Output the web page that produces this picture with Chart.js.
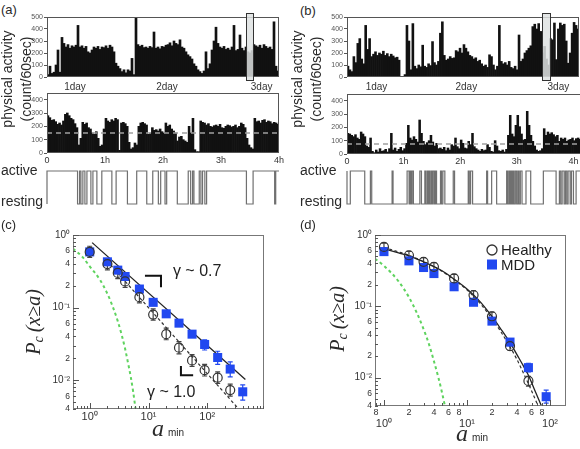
<!DOCTYPE html>
<html><head><meta charset="utf-8">
<script src="https://cdn.jsdelivr.net/npm/chart.js@4.4.1/dist/chart.umd.min.js"></script>
<style>
html,body{margin:0;padding:0;background:#fff;}
body{width:580px;height:449px;overflow:hidden;position:relative;font-family:"Liberation Sans",Arial,sans-serif;color:#2a2a2a}
canvas{position:absolute;display:block}
.t{position:absolute;white-space:nowrap;line-height:1}
.rot{position:absolute;text-align:center;transform:rotate(-90deg);white-space:nowrap}
</style></head><body>
<canvas id="topA" width="268" height="82" style="left:17px;top:11px"></canvas>
<canvas id="midA" width="270" height="80" style="left:17px;top:87px"></canvas>
<canvas id="stA" width="242" height="43" style="left:42px;top:166px"></canvas>
<canvas id="topB" width="268" height="82" style="left:317px;top:11px"></canvas>
<canvas id="midB" width="272" height="80" style="left:317px;top:88px"></canvas>
<canvas id="stB" width="244" height="43" style="left:342px;top:166px"></canvas>
<canvas id="logC" width="241" height="199" style="left:31px;top:226px"></canvas>
<canvas id="logD" width="241" height="210" style="left:333px;top:226px"></canvas>

<div class="t" style="left:1px;top:3px;font-size:13px">(a)</div>
<div class="t" style="left:300px;top:4px;font-size:13px">(b)</div>
<div class="t" style="left:1px;top:218px;font-size:13px">(c)</div>
<div class="t" style="left:300px;top:218px;font-size:13px">(d)</div>
<div class="rot" style="left:-53px;top:60px;width:140px;height:38px;font-size:14px;line-height:19px">physical activity<br>(count/60sec)</div>
<div class="rot" style="left:237px;top:60px;width:140px;height:38px;font-size:14px;line-height:19px">physical activity<br>(count/60sec)</div>
<div class="t" style="left:1px;top:163px;font-size:14px">active</div>
<div class="t" style="left:1px;top:194px;font-size:14px">resting</div>
<div class="t" style="left:300px;top:163px;font-size:14px">active</div>
<div class="t" style="left:300px;top:194px;font-size:14px">resting</div>
<div class="rot" style="left:-17px;top:307px;width:100px;height:30px;font:italic 20px/30px 'Liberation Serif',serif">P<span style="font-size:14px;vertical-align:-3px">c</span>&#8201;(x≥a)</div>
<div class="rot" style="left:287px;top:304px;width:100px;height:30px;font:italic 20px/30px 'Liberation Serif',serif">P<span style="font-size:14px;vertical-align:-3px">c</span>&#8201;(x≥a)</div>
<div class="t" style="left:152px;top:416px"><span style="font:italic 24px/24px 'Liberation Serif',serif">a</span><span style="font-size:10px;margin-left:4px">min</span></div>
<div class="t" style="left:456px;top:421px"><span style="font:italic 24px/24px 'Liberation Serif',serif">a</span><span style="font-size:10px;margin-left:4px">min</span></div>

<script>
// ---------------- DATA ----------------
// (a)/(b) top: 3-day activity record (count/60sec), coarse bins
const topBinsA = [20,90,30,40,100,225,40,330,280,250, 270,240,260,250,265,430,250,260,240,255,
  210,200,225,250,240,255,230,250,245,260, 240,265,250,210,115,90,70,45,60,35,
  60,50,155,20,500,270,255,265,245,250, 240,255,245,375,240,250,235,255,250,265,
  270,285,260,300,280,270,310,250,240,210, 185,170,150,110,90,60,45,30,50,210,
  70,110,225,300,415,280,250,240,255,230, 240,225,250,430,220,230,350,240,220,250,
  210,200,220,270,260,250,265,240,270,255, 240,250,230,460,90,50];
const topBinsB = [90,60,45,170,120,280,320,150,110,430, 230,320,170,190,210,180,200,190,215,180,
  195,170,190,175,160,165,140,0,0,20, 430,300,60,445,90,70,100,85,265,90,
  80,110,95,295,120,100,130,365,460,180, 140,150,170,155,160,220,210,240,200,270,
  240,210,180,170,150,160,130,140,110,90, 100,80,185,170,100,60,90,430,130,110,
  120,100,130,80,70,90,60,350,130,150, 200,220,240,260,420,440,400,445,380,200,
  255,150,100,320,310,450,145,400,450,430, 440,300,115,200,365,455,430,400];
const dayTickA = [14, 60, 107.3];
const dayTickB = [15, 60.7, 107.5];
const dayLabels = ['1day', '2day', '3day'];
const highlightA = [99.3, 103.2];
const highlightB = [99.2, 103.3];
const topYTicks = [0, 100, 200, 300, 400, 500];

// (a)/(b) middle: 4-hour close-up, 2-min bins (count/60sec)
const midA = [280,265,245,250,235,215,225,210,240,290, 300,280,260,250,220,190,60,110,230,215,
  225,190,180,150,140,160,110,50,60,180, 260,240,230,250,240,260,250,20,225,230,
  220,200,80,30,40,75,60,200,225,230, 220,210,140,150,190,170,175,165,180,160,
  150,225,200,210,180,165,150,90,120,125, 100,90,80,200,150,260,25,10,10,240,
  230,225,210,220,200,195,205,210,200,215, 190,185,200,210,205,195,200,210,190,200,
  225,215,190,110,60,40,30,260,235,240, 225,245,250,230,240,235,220,230,225,215];
const midB = [155,150,140,130,145,120,110,165,150,130, 60,50,120,20,10,30,15,40,20,25,
  35,15,40,155,30,45,20,35,50,25, 40,80,215,120,105,130,110,90,255,155,
  95,70,85,100,140,90,60,80,40,45, 35,50,25,45,30,70,60,120,55,40,
  105,80,45,40,95,70,155,55,40,30, 20,35,25,30,70,50,20,15,100,60,
  25,20,30,15,35,140,290,150,130,215, 290,205,150,105,110,320,215,140,95,60,
  30,20,25,40,190,140,165,150,160,145, 130,140,95,120,110,120,95,105,110,120,
  100,115,120,110];
const thresholdA = 150, thresholdB = 75;
const midYTicks = [0, 100, 200, 300, 400];
const hourTicks = [0, 60, 120, 180, 240];
const hourLabels = ['0', '1h', '2h', '3h', '4h'];

// active/resting state: state before t=0, then toggle times (min)
const stateStartA = 0;
const togglesA = [0,31.6,33.7,35.1,37.1,39.2,41.3,45.4,47.5,51.6,56.7,67.1,71.5,83.2,92.8,103.2,109.4,
  115.2,117.6,122.1,123.8,134.8,146.1,148.6,150.6,152,157.5,159.2,160.9,163.3,165.1,206.3,213.2,235.5,236.6];
const stateStartB = 1;
const togglesB = [0,3.5,18.8,24.8,26.2,47.8,48.8,63.7,65.8,66.9,68,69,70.4,77.2,78.9,82.5,83.5,85,86,87.1,
  87.8,89.2,90.3,91.3,92.7,93.8,94.9,99.1,100.2,101.6,103.7,112.6,114,128.5,129.6,131,133.1,148,149,153.3,
  158.6,169.2,170.3,171.7,172.7,173.8,174.9,175.9,177,178.4,179.8,181.2,182.3,183.7,185.5,189.7,194.7,208.1,
  221.6,225.1,226.5,228,230.1,231.5,232.9,234.3,236.5,237.9,240,242.8];

// (c) cumulative distribution of active period
const aMinC = [1,2,3,4,7,12,20,33,55,90,150,245,400];
const mddC = [0.585,0.427,0.328,0.268,0.18,0.118,0.082,0.061,0.043,0.031,0.0205,0.0142,0.0069];
const mddLoC = [null,null,null,null,null,null,null,null,null,0.026,0.0165,0.0111,0.0053];
const mddHiC = [null,null,null,null,null,null,null,null,null,0.036,0.025,0.0178,0.0086];
const healthyC = [0.585,0.397,0.30,0.229,0.139,0.080,0.043,0.028,0.0187,0.0137,0.0108,0.0073];
const healthyLoC = [0.49,0.33,0.25,0.19,0.116,0.067,0.036,0.023,0.0155,0.0114,0.009,0.006];
const healthyHiC = [0.70,0.47,0.36,0.27,0.167,0.096,0.052,0.034,0.0225,0.0165,0.013,0.0088];
const fit07X = [1.1, 444], fit07Y = [0.785, 0.0102];
const fit10X = [1.96, 333], fit10Y = [0.44, 0.0041];
const expCX = [0.52,0.75,1,1.5,2,2.5,3,3.5,4,4.5,5,5.5,6];
const expCY = [0.65,0.5,0.37,0.24,0.155,0.1,0.065,0.042,0.027,0.017,0.011,0.0068,0.0041];

// (d) cumulative distribution of resting period
const aMinD = [1,2,3,4,7,12,20,33,55,90];
const mddD = [0.585,0.434,0.35,0.288,0.188,0.114,0.062,0.0315,0.0138,0.0054];
const mddLoD = [null,null,null,null,null,null,null,0.028,0.012,0.0044];
const mddHiD = [null,null,null,null,null,null,null,0.035,0.0159,0.0067];
const healthyD = [0.68,0.52,0.42,0.358,0.246,0.144,0.0725,0.0277,0.009];
const healthyLoD = [0.6,0.46,0.37,0.315,0.215,0.126,0.063,0.024,0.0076];
const healthyHiD = [0.77,0.59,0.48,0.41,0.28,0.165,0.083,0.032,0.0104];
const fitHX = [1,1.5,2,3,4,5,7,10,12,15,20,25,33,40,48,55,65,79];
const fitHY = [0.64,0.56,0.51,0.42,0.36,0.315,0.24,0.175,0.144,0.11,0.072,0.05,0.031,0.021,0.0145,0.0108,0.0068,0.004];
const fitMX = [1,1.5,2,3,4,5,7,10,12,15,20,25,33,40,48,55,64,72];
const fitMY = [0.67,0.58,0.52,0.425,0.36,0.31,0.235,0.17,0.138,0.104,0.067,0.046,0.027,0.018,0.0115,0.0082,0.0055,0.004];
const expDX = [0.78,1,1.5,2,2.5,3,3.5,4,4.5,5,5.5];
const expDY = [0.465,0.37,0.224,0.134,0.08,0.048,0.029,0.017,0.0103,0.0062,0.0037];

// log axis labels
const logYLabelVals = [1,0.6,0.4,0.2,0.1,0.06,0.04,0.02,0.01,0.006,0.004];
const logYLabelText = ['10⁰','6','4','2','10⁻¹','6','4','2','10⁻²','6','4'];
const logXMajorVals = [1,10,100];
const logXMajorText = ['10⁰','10¹','10²'];
const logXMinorValsD = [0.8,2,4,6,8,20,40,60,80];
const logXMinorTextD = ['8','2','4','6','8','2','4','6','8'];
const legendNames = ['Healthy', 'MDD'];
const slopeTexts = ['γ ~ 0.7', 'γ ~ 1.0'];

// ---------------- HELPERS ----------------
Chart.defaults.font.family = '"Liberation Sans", Arial, sans-serif';
Chart.defaults.color = '#333';
const BLUE = '#2148f0', GREEN = '#5fd35f';
const fixW = w => s => { s.width = w; };
const fixH = h => s => { s.height = h; };
const zip = (xs, ys) => ys.map((y, i) => ({x: xs[i], y}));
const same = (a, b) => Math.abs(Math.log10(a) - Math.log10(b)) < 1e-6;
const findLbl = (v, vals, txt) => { for (let i = 0; i < vals.length; i++) if (same(v, vals[i])) return txt[i]; return null; };
const isPow10 = v => Math.abs(Math.log10(v) - Math.round(Math.log10(v))) < 1e-6;

function framePlugin(color) {
  return {id: 'frame', afterDatasetsDraw(chart) {
    const a = chart.chartArea, c = chart.ctx;
    c.save(); c.strokeStyle = color; c.lineWidth = 1;
    c.strokeRect(Math.round(a.left) + 0.5, Math.round(a.top) + 0.5, Math.round(a.right - a.left) - 1, Math.round(a.bottom - a.top) - 1);
    c.restore();
  }};
}
function highlightPlugin(range) {
  return {id: 'hl', afterDraw(chart) {
    const a = chart.chartArea, c = chart.ctx, xs = chart.scales.x;
    const x0 = Math.round(xs.getPixelForValue(range[0])) + 0.5, x1 = Math.round(xs.getPixelForValue(range[1])) + 0.5;
    c.save();
    c.fillStyle = 'rgba(222,226,226,0.85)';
    c.fillRect(x0, a.top - 4, x1 - x0, a.bottom - a.top + 7);
    c.strokeStyle = '#333'; c.lineWidth = 1;
    c.strokeRect(x0, Math.round(a.top) - 3.5, x1 - x0, a.bottom - a.top + 7);
    c.restore();
  }};
}
const errPlugin = {id: 'err', beforeDatasetsDraw(chart) {
  const c = chart.ctx, ys = chart.scales.y;
  chart.data.datasets.forEach((ds, di) => {
    if (!ds.errLo) return;
    const meta = chart.getDatasetMeta(di);
    c.save(); c.strokeStyle = ds.errColor; c.lineWidth = 1.2;
    meta.data.forEach((pt, i) => {
      const lo = ds.errLo[i], hi = ds.errHi[i];
      if (lo == null) return;
      const y0 = ys.getPixelForValue(lo), y1 = ys.getPixelForValue(hi);
      c.beginPath();
      c.moveTo(pt.x, y0); c.lineTo(pt.x, y1);
      c.moveTo(pt.x - 2.5, y0); c.lineTo(pt.x + 2.5, y0);
      c.moveTo(pt.x - 2.5, y1); c.lineTo(pt.x + 2.5, y1);
      c.stroke();
    });
    c.restore();
  });
}};
const inTicksPlugin = {id: 'inticks', afterDraw(chart) {
  const c = chart.ctx, a = chart.chartArea;
  c.save(); c.strokeStyle = '#555'; c.lineWidth = 1;
  c.beginPath();
  chart.scales.y.ticks.forEach(t => {
    const y = Math.round(chart.scales.y.getPixelForValue(t.value)) + 0.5;
    const L = isPow10(t.value) ? 6 : 3;
    c.moveTo(a.left, y); c.lineTo(a.left + L, y);
  });
  chart.scales.x.ticks.forEach(t => {
    const x = Math.round(chart.scales.x.getPixelForValue(t.value)) + 0.5;
    const L = isPow10(t.value) ? 6 : 3;
    c.moveTo(x, a.bottom); c.lineTo(x, a.bottom - L);
  });
  c.stroke(); c.restore();
}};
function annoPlugin(items) {
  return {id: 'anno', afterDatasetsDraw(chart) {
    const c = chart.ctx, xs = chart.scales.x, ys = chart.scales.y;
    c.save();
    items.forEach(it => {
      if (it.text) {
        c.font = '16px "Liberation Sans", Arial, sans-serif'; c.fillStyle = '#222';
        c.textBaseline = 'middle'; c.textAlign = 'left';
        c.fillText(it.text, xs.getPixelForValue(it.x), ys.getPixelForValue(it.y));
      }
      if (it.path) {
        c.strokeStyle = '#111'; c.lineWidth = 2; c.beginPath();
        it.path.forEach((p, k) => { const X = xs.getPixelForValue(p[0]), Y = ys.getPixelForValue(p[1]); k ? c.lineTo(X, Y) : c.moveTo(X, Y); });
        c.stroke();
      }
    });
    c.restore();
  }};
}
const legendPlugin = {id: 'lg', afterDatasetsDraw(chart) {
  const c = chart.ctx, a = chart.chartArea;
  const cx = a.left + 117, y1 = a.top + 15, y2 = a.top + 29.5;
  c.save();
  c.strokeStyle = '#333'; c.lineWidth = 1.3;
  c.beginPath(); c.arc(cx, y1, 5, 0, Math.PI * 2); c.stroke();
  c.fillStyle = BLUE; c.fillRect(cx - 5, y2 - 5, 10, 10);
  c.fillStyle = '#222'; c.font = '15px "Liberation Sans", Arial, sans-serif';
  c.textBaseline = 'middle'; c.textAlign = 'left';
  c.fillText(legendNames[0], cx + 9, y1 + 1);
  c.fillText(legendNames[1], cx + 9, y2 + 1);
  c.restore();
}};
const noUI = {legend: {display: false}, tooltip: {enabled: false}};

// ---------------- TOP (3 day) ----------------
function topChart(id, vals, dayTicks, hl) {
  new Chart(document.getElementById(id), {
    type: 'bar',
    data: {datasets: [{data: vals.map((v, i) => ({x: i + 0.5, y: v})), backgroundColor: '#111', borderWidth: 0, barPercentage: 1, categoryPercentage: 1}]},
    options: {
      responsive: false, animation: false, events: [],
      layout: {padding: {left: 0, top: 6, right: 6, bottom: 0}},
      plugins: noUI,
      scales: {
        x: {type: 'linear', min: 0, max: vals.length, offset: false, grid: {display: false, drawTicks: false, tickLength: 0}, border: {display: false},
            afterBuildTicks: s => { s.ticks = dayTicks.map(v => ({value: v})); },
            ticks: {autoSkip: false, maxRotation: 0, padding: 4, font: {size: 10}, color: '#333', callback: (v, i) => dayLabels[i]},
            afterFit: fixH(16)},
        y: {min: 0, max: 500, grid: {display: true, drawOnChartArea: false, drawTicks: true, tickLength: 3, color: '#555'}, border: {display: false},
            afterBuildTicks: s => { s.ticks = topYTicks.map(v => ({value: v})); },
            ticks: {font: {size: 7}, padding: 1, color: '#555', callback: (v, i) => String(topYTicks[i])},
            afterFit: fixW(30)}
      }
    },
    plugins: [framePlugin('#555'), highlightPlugin(hl)]
  });
}
topChart('topA', topBinsA, dayTickA, highlightA);
topChart('topB', topBinsB, dayTickB, highlightB);

// ---------------- MIDDLE (4 h) ----------------
function midChart(id, vals, thr) {
  const xMax = vals.length * 2;
  new Chart(document.getElementById(id), {
    type: 'bar',
    data: {datasets: [
      {type: 'line', data: [{x: 0, y: thr}, {x: xMax, y: thr}], borderColor: '#a0a0a0', borderDash: [5, 4], borderWidth: 1.5, pointRadius: 0},
      {type: 'bar', data: vals.map((v, i) => ({x: 2 * i + 1, y: v})), backgroundColor: '#111', borderWidth: 0, barPercentage: 1, categoryPercentage: 1}
    ]},
    options: {
      responsive: false, animation: false, events: [],
      layout: {padding: {left: 0, top: 6, right: 8, bottom: 0}},
      plugins: noUI,
      scales: {
        x: {type: 'linear', min: 0, max: xMax, offset: false, grid: {display: false, drawTicks: false, tickLength: 0}, border: {display: false},
            afterBuildTicks: s => { s.ticks = hourTicks.map(v => ({value: v})); },
            ticks: {autoSkip: false, maxRotation: 0, padding: 2, font: {size: 9}, color: '#333', callback: (v, i) => hourLabels[i]},
            afterFit: fixH(14)},
        y: {min: 0, max: 450, grid: {display: true, drawOnChartArea: false, drawTicks: true, tickLength: 3, color: '#555'}, border: {display: false},
            afterBuildTicks: s => { s.ticks = midYTicks.map(v => ({value: v})); },
            ticks: {font: {size: 7}, padding: 1, color: '#555', callback: (v, i) => String(midYTicks[i])},
            afterFit: fixW(30)}
      }
    },
    plugins: [framePlugin('#555')]
  });
}
midChart('midA', midA, thresholdA);
midChart('midB', midB, thresholdB);

// ---------------- STATE ROW ----------------
function stateChart(id, start, toggles, xMax) {
  const pts = [{x: 0, y: start}];
  let s = start;
  toggles.forEach(t => { s = 1 - s; pts.push({x: t, y: s}); });
  pts.push({x: xMax, y: s});
  new Chart(document.getElementById(id), {
    type: 'line',
    data: {datasets: [{data: pts, stepped: true, borderColor: '#707070', borderWidth: 1.2, pointRadius: 0, fill: false, clip: false}]},
    options: {
      responsive: false, animation: false, events: [],
      layout: {padding: 5}, plugins: noUI,
      scales: {x: {type: 'linear', display: false, min: 0, max: xMax}, y: {type: 'linear', display: false, min: 0, max: 1}}
    }
  });
}
stateChart('stA', stateStartA, togglesA, 240);
stateChart('stB', stateStartB, togglesB, midB.length * 2);

// ---------------- LOG-LOG PANELS ----------------
function logTicks(min, max) {
  const out = [];
  for (let e = -4; e <= 3; e++) for (let k = 1; k <= 9; k++) {
    const v = k * Math.pow(10, e);
    if (v >= min * 0.9999 && v <= max * 1.0001) out.push({value: v});
  }
  return out;
}
function logChart(id, cfg) {
  new Chart(document.getElementById(id), {
    type: 'scatter',
    data: {datasets: cfg.datasets},
    options: {
      responsive: false, animation: false, events: [],
      layout: {padding: {left: 0, top: 8, right: 8, bottom: 0}},
      plugins: noUI,
      scales: {
        x: {type: 'logarithmic', min: cfg.xmin, max: cfg.xmax, grid: {display: false, drawTicks: false, tickLength: 0}, border: {display: false},
            afterBuildTicks: s => { s.ticks = logTicks(cfg.xmin, cfg.xmax); },
            ticks: {autoSkip: false, maxRotation: 0, padding: 1, color: '#333',
                    font: ctx => (isPow10(ctx.tick.value) ? {size: 11, lineHeight: cfg.majorLH} : {size: 9, lineHeight: 1.2}),
                    callback: cfg.xLabel},
            afterFit: fixH(cfg.xh)},
        y: {type: 'logarithmic', min: 0.004, max: 1, grid: {display: false, drawTicks: false, tickLength: 0}, border: {display: false},
            afterBuildTicks: s => { s.ticks = logTicks(0.004, 1); },
            ticks: {autoSkip: false, padding: 3, color: '#333',
                    font: ctx => ({size: isPow10(ctx.tick.value) ? 10 : 8.5}),
                    callback: v => findLbl(v, logYLabelVals, logYLabelText) || ''},
            afterFit: fixW(42)}
      }
    },
    plugins: [errPlugin, framePlugin('#777'), inTicksPlugin].concat(cfg.extra)
  });
}
const circleDS = (xs, ys, lo, hi) => ({data: zip(xs, ys), pointStyle: 'circle', pointRadius: 4.5, pointBorderColor: '#333', pointBackgroundColor: 'rgba(255,255,255,0)', pointBorderWidth: 1.2, showLine: false, errLo: lo, errHi: hi, errColor: '#444'});
const squareDS = (xs, ys, lo, hi) => ({data: zip(xs, ys), pointStyle: 'rect', pointRadius: 6.4, pointBackgroundColor: BLUE, pointBorderColor: BLUE, pointBorderWidth: 0, showLine: false, errLo: lo, errHi: hi, errColor: BLUE});
const lineDS = (xs, ys, color, w, dash, smooth) => ({data: zip(xs, ys), showLine: true, pointRadius: 0, borderColor: color, borderWidth: w, borderDash: dash, cubicInterpolationMode: smooth ? 'monotone' : 'default', tension: 0});

logChart('logC', {
  xmin: 0.52, xmax: 920, xh: 16, majorLH: 1.2,
  xLabel: v => findLbl(v, logXMajorVals, logXMajorText) || '',
  datasets: [
    circleDS(aMinC.slice(0, healthyC.length), healthyC, healthyLoC, healthyHiC),
    squareDS(aMinC, mddC, mddLoC, mddHiC),
    lineDS(fit07X, fit07Y, '#222', 1.3, [], false),
    lineDS(fit10X, fit10Y, '#333', 1.2, [3, 2.5], false),
    lineDS(expCX, expCY, GREEN, 2, [3, 3], true)
  ],
  extra: [annoPlugin([
    {text: slopeTexts[0], x: 26, y: 0.31},
    {text: slopeTexts[1], x: 9.4, y: 0.0068},
    {path: [[8.7, 0.274], [16.3, 0.274], [16.3, 0.19]]},
    {path: [[35.6, 0.0157], [35.6, 0.0117], [57.4, 0.0117]]}
  ])]
});
logChart('logD', {
  xmin: 0.78, xmax: 156, xh: 30, majorLH: 1.0,
  xLabel: v => { const m = findLbl(v, logXMajorVals, logXMajorText); if (m) return ['', m]; return findLbl(v, logXMinorValsD, logXMinorTextD) || ''; },
  datasets: [
    circleDS(aMinD.slice(0, healthyD.length), healthyD, healthyLoD, healthyHiD),
    squareDS(aMinD, mddD, mddLoD, mddHiD),
    lineDS(fitHX, fitHY, '#222', 1.3, [], true),
    lineDS(fitMX, fitMY, '#333', 1.2, [3, 2.5], true),
    lineDS(expDX, expDY, GREEN, 2, [3, 3], true)
  ],
  extra: [legendPlugin]
});
</script>
</body></html>
